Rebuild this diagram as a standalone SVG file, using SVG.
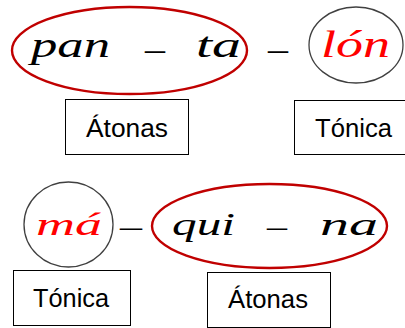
<svg xmlns="http://www.w3.org/2000/svg" width="405" height="328" viewBox="0 0 405 328">
<style>
.red-ring{fill:none;stroke:#C00000;stroke-width:2.4}
.gray-ring{fill:none;stroke:#404040;stroke-width:1.3}
.box{fill:#fff;stroke:#000;stroke-width:1}
.cur{font-family:"Liberation Serif",serif;font-style:italic;fill:#000}
.ton{fill:#FF0000}
.lbl{font-family:"Liberation Sans",Arial,sans-serif;font-size:26px;fill:#000}
</style>
<rect width="405" height="328" fill="#fff"/>
<g id="pan-ta">
<ellipse class="red-ring" cx="129.5" cy="50.5" rx="117.5" ry="43.5"/>
<text class="cur" x="31" y="57" font-size="36" textLength="79" lengthAdjust="spacingAndGlyphs">pan</text>
<text class="cur" x="145" y="61" font-size="36" textLength="20" lengthAdjust="spacingAndGlyphs">–</text>
<text class="cur" x="196" y="57" font-size="36" textLength="45" lengthAdjust="spacingAndGlyphs">ta</text>
</g>
<text class="cur" x="268" y="61" font-size="36" textLength="20" lengthAdjust="spacingAndGlyphs">–</text>
<g id="lon">
<ellipse class="gray-ring" cx="356" cy="45" rx="47" ry="38"/>
<text class="cur ton" x="321" y="57" font-size="38" textLength="69" lengthAdjust="spacingAndGlyphs">lón</text>
</g>
<g id="label-atonas-1">
<rect class="box" x="65.5" y="99.5" width="123" height="55"/>
<text class="lbl" x="127" y="137" text-anchor="middle" textLength="82" lengthAdjust="spacingAndGlyphs">Átonas</text>
</g>
<g id="label-tonica-1">
<rect class="box" x="294.5" y="100.5" width="120" height="54"/>
<text class="lbl" x="353.5" y="137" text-anchor="middle" textLength="77" lengthAdjust="spacingAndGlyphs">Tónica</text>
</g>
<g id="ma">
<ellipse class="gray-ring" cx="68.5" cy="224.5" rx="44.5" ry="42.5"/>
<text class="cur ton" x="36" y="235" font-size="31" textLength="66" lengthAdjust="spacingAndGlyphs">má</text>
</g>
<text class="cur" x="120" y="237" font-size="32" textLength="22" lengthAdjust="spacingAndGlyphs">–</text>
<g id="qui-na">
<ellipse class="red-ring" cx="269.5" cy="226" rx="117.5" ry="42"/>
<text class="cur" x="172" y="235" font-size="31" textLength="63" lengthAdjust="spacingAndGlyphs">qui</text>
<text class="cur" x="267" y="237" font-size="32" textLength="20" lengthAdjust="spacingAndGlyphs">–</text>
<text class="cur" x="320" y="235" font-size="31" textLength="58" lengthAdjust="spacingAndGlyphs">na</text>
</g>
<g id="label-tonica-2">
<rect class="box" x="13.5" y="270.5" width="117" height="55"/>
<text class="lbl" x="71" y="307" text-anchor="middle" textLength="76" lengthAdjust="spacingAndGlyphs">Tónica</text>
</g>
<g id="label-atonas-2">
<rect class="box" x="207.5" y="272.5" width="123" height="55"/>
<text class="lbl" x="268" y="308" text-anchor="middle" textLength="80" lengthAdjust="spacingAndGlyphs">Átonas</text>
</g>
</svg>
